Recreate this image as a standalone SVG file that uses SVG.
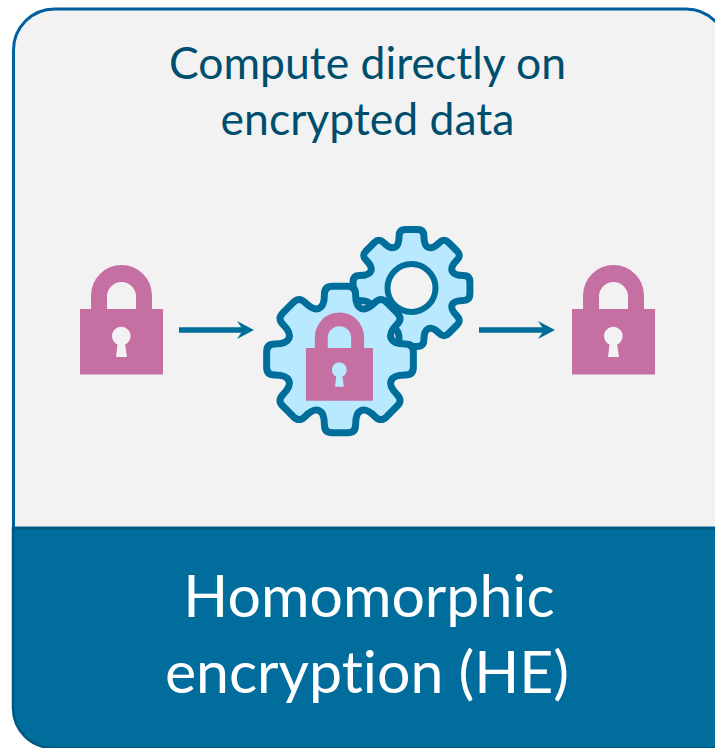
<svg xmlns="http://www.w3.org/2000/svg" width="715" height="748" viewBox="0 0 715 748">
<style>
.t{font-family:"Lato","Liberation Sans",sans-serif;text-anchor:middle;font-variant-ligatures:none}
.head{font-size:44.5px;fill:#004E6E}
.band{font-size:59px;fill:#fff}
.gear{fill:#B9E9FF;stroke:#006E9B;stroke-width:7;stroke-linejoin:round;vector-effect:non-scaling-stroke}
.lock{fill:#C56FA3;fill-rule:evenodd}
.conn{stroke:#006E9B;stroke-width:5.500;fill:none;marker-end:url(#ah)}
</style>
<defs>
<marker id="ah" markerUnits="userSpaceOnUse" markerWidth="17" markerHeight="18" viewBox="0 0 17 18" refX="6" refY="9" orient="auto"><path d="M0 0L17 9L0 18L6 9Z" fill="#006E9B"/></marker>
<path id="lockshape" class="lock" d="M80 309H91V295.500A30.500 30.500 0 0 1 152 295.500V309H163V374.500H80ZM107 309H136V296.500A14.500 14.500 0 0 0 107 296.500ZM117.500 344.500L116 357H127L125.100 344.500A9.300 9.300 0 1 0 117.500 344.500Z"/>
<path id="gearshape" class="gear" d="M-21 -50.8Q-15.5 -53.1 -15.5 -65Q-15.5 -73 -7.5 -73L7.5 -73Q15.5 -73 15.5 -65Q15.5 -53.1 21 -50.8Q26.6 -48.5 35 -56.9Q40.7 -62.6 46.3 -56.9L56.9 -46.3Q62.6 -40.7 56.9 -35Q48.5 -26.6 50.8 -21Q53.1 -15.5 65 -15.5Q73 -15.5 73 -7.5L73 7.5Q73 15.5 65 15.5Q53.1 15.5 50.8 21Q48.5 26.6 56.9 35Q62.6 40.7 56.9 46.3L46.3 56.9Q40.7 62.6 35 56.9Q26.6 48.5 21 50.8Q15.5 53.1 15.5 65Q15.5 73 7.5 73L-7.5 73Q-15.5 73 -15.5 65Q-15.5 53.1 -21 50.8Q-26.6 48.5 -35 56.9Q-40.7 62.6 -46.3 56.9L-56.9 46.3Q-62.6 40.7 -56.9 35Q-48.5 26.6 -50.8 21Q-53.1 15.5 -65 15.5Q-73 15.5 -73 7.5L-73 -7.5Q-73 -15.5 -65 -15.5Q-53.1 -15.5 -50.8 -21Q-48.5 -26.6 -56.9 -35Q-62.6 -40.7 -56.9 -46.3L-46.3 -56.9Q-40.7 -62.6 -35 -56.9Q-26.6 -48.5 -21 -50.8Z"/>
</defs>
<rect width="715" height="748" fill="#fff"/>
<g id="card">
<path d="M13.500 528V50A41 41 0 0 1 54.500 9H686A41 41 0 0 1 727 50V528Z" fill="#F2F2F2" stroke="#005F9E" stroke-width="3"/>
<path d="M13 528.500H727V748H53A40 40 0 0 1 13 708Z" fill="#006D9C" stroke="#00597F" stroke-width="2.500"/>
<text class="t head" x="367.500" y="79">Compute directly on</text>
<text class="t head" x="367.500" y="135">encrypted data</text>
<text class="t band" x="369" y="617">Homomorphic</text>
<text class="t band" x="367" y="693">encryption (HE)</text>
</g>
<g id="lock-input"><use href="#lockshape"/></g>
<g id="gears">
<use href="#gearshape" transform="translate(411.500 288) scale(.8)"/>
<circle cx="411.500" cy="288" r="24" fill="#F2F2F2" stroke="#006E9B" stroke-width="6"/>
<use href="#gearshape" transform="translate(340 359.500) scale(1.005)"/>
<use href="#lockshape" transform="translate(241.400 98.600) scale(.807)"/>
</g>
<g id="lock-output"><use href="#lockshape" transform="translate(492 0)"/></g>
<g id="connectors">
<line class="conn" x1="179" y1="330" x2="243" y2="330"/>
<line class="conn" x1="479" y1="330" x2="544" y2="330"/>
</g>
</svg>
